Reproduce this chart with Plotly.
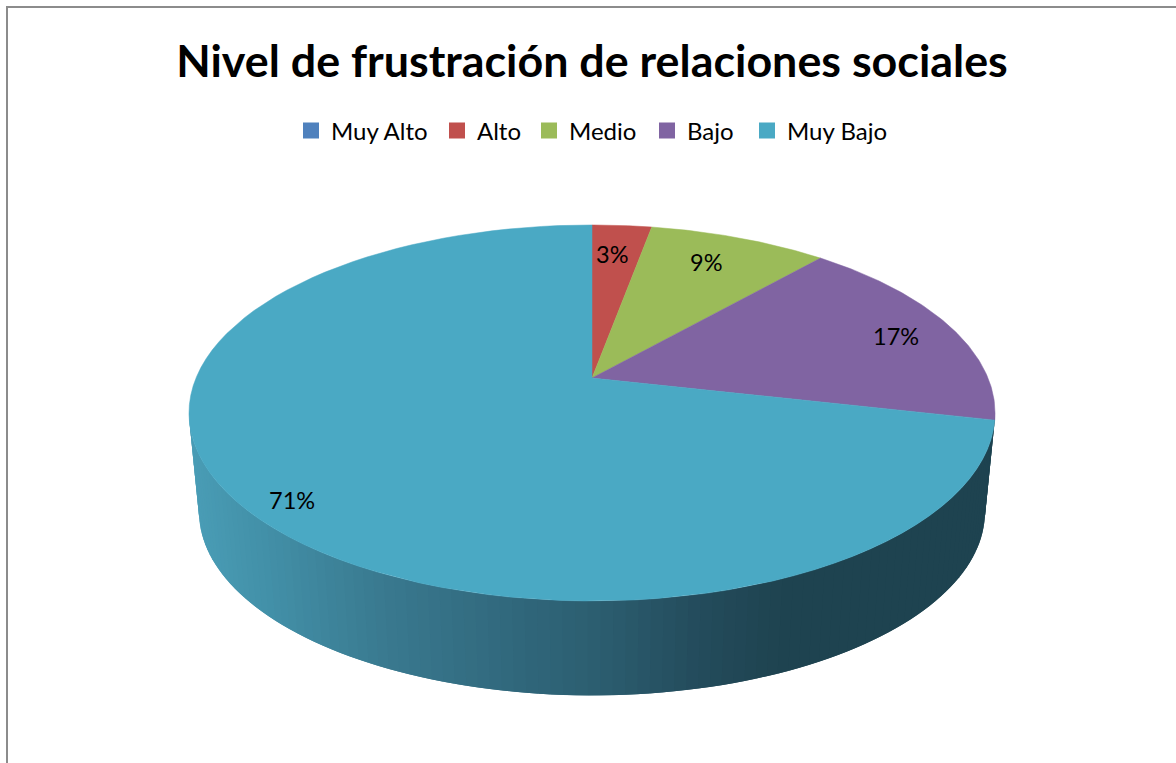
#!/usr/bin/python3

import numpy
import plotly.graph_objs as go

title = "Nivel de frustración de relaciones sociales"
categories = ["Muy Alto", "Alto", "Medio", "Bajo", "Muy Bajo"]
values = [0, 1, 3, 6, 25]
colors = ["#4F81BD", "#C0504D", "#9BBB59", "#8064A2", "#4AA9C4"]

# screen x -> shade of the side wall
wallX = [190, 260, 380, 530, 600, 700, 780, 1000]
wallR = [0x4A, 0x43, 0x3A, 0x30, 0x2C, 0x24, 0x1F, 0x1E]
wallG = [0x9D, 0x91, 0x7A, 0x66, 0x5E, 0x4C, 0x44, 0x43]
wallB = [0xB6, 0xA9, 0x90, 0x7A, 0x70, 0x5C, 0x51, 0x50]

# tilted disc seen in perspective, all in page pixels
centerX = 592
centerY = 378
radiusX = 396
radiusY = 181.5
persp = 0.186
bottomY = 478
bottomScale = 0.975


def disc(angle):
    u = numpy.sin(numpy.radians(angle))
    v = numpy.cos(numpy.radians(angle))
    d = 1 + persp * v
    return radiusX * u / d, -radiusY * v / d


fig = go.Figure()

# side wall, thin overlapping bands painted from the left so no seams show
step = 1.5
edges = numpy.arange(260, 100, -step)
for a1 in edges:
    arc = numpy.array([a1 - step * 2, a1 - step, a1])
    arc = arc[arc >= 100] if a1 - step * 2 >= 100 else numpy.array([100, a1])
    dx, dy = disc(arc)
    topX = centerX + dx
    topY = centerY + dy
    lowX = centerX + dx * bottomScale
    lowY = bottomY + dy * bottomScale
    mid = centerX + disc(a1 - step / 2)[0]
    shade = "rgb(%d,%d,%d)" % (numpy.interp(mid, wallX, wallR), numpy.interp(mid, wallX, wallG), numpy.interp(mid, wallX, wallB))
    fig.add_trace(go.Scatter(
        x=list(topX) + list(lowX[::-1]),
        y=list(topY) + list(lowY[::-1]),
        mode="lines",
        fill="toself",
        fillcolor=shade,
        line=dict(width=0),
        showlegend=False,
        hoverinfo="skip"
    ))

# top face
total = sum(values)
start = 0
for name, value, color in zip(categories, values, colors):
    sweep = value / total * 360
    if value > 0:
        arc = numpy.linspace(start, start + sweep, 90)
        dx, dy = disc(arc)
        fig.add_trace(go.Scatter(
            x=[centerX] + list(centerX + dx) + [centerX],
            y=[centerY] + list(centerY + dy) + [centerY],
            mode="lines",
            fill="toself",
            fillcolor=color,
            line=dict(color=color, width=0.5),
            showlegend=False,
            name=name,
            hoverinfo="name"
        ))
    start += sweep

# one legend per entry, the original spaces them unevenly
legendTextX = [331, 477, 569, 687, 787]
legends = {}
for i, (name, color) in enumerate(zip(categories, colors)):
    key = "legend" if i == 0 else f"legend{i + 1}"
    fig.add_trace(go.Scatter(
        x=[None],
        y=[None],
        mode="markers",
        name=name,
        legend=key,
        marker=dict(symbol="square", size=17, color=color)
    ))
    legends[key] = dict(
        x=(legendTextX[i] - 40) / 1176,
        xanchor="left",
        y=1 - 131 / 763,
        yanchor="middle",
        font=dict(family="Lato", size=24, color="#000000")
    )

labelX = [612, 706, 896, 292]
labelY = [254, 262, 336, 500]
for i, (x, y) in enumerate(zip(labelX, labelY)):
    share = values[i + 1] / total * 100
    fig.add_annotation(x=x, y=y, text=f"{share:.0f}%", showarrow=False,
                       font=dict(family="Lato", size=23.5, color="#000000"))

fig.add_shape(type="rect", x0=7, y0=7, x1=1200, y1=790, line=dict(color="#8C8C8C", width=2))

fig.update_layout(
    width=1176,
    height=763,
    margin=dict(l=0, r=0, t=0, b=0),
    paper_bgcolor="#FFFFFF",
    plot_bgcolor="#FFFFFF",
    title=dict(
        text=title,
        x=592 / 1176,
        xanchor="center",
        y=1 - 61 / 763,
        yanchor="middle",
        font=dict(family="Lato", size=44.8, color="#000000", weight="bold")
    ),
    xaxis=dict(range=[0, 1176], visible=False),
    yaxis=dict(range=[763, 0], visible=False),
    **legends
)

# page body has a default margin that would push the chart off by 8px
fig.write_html("out.html", config=dict(displayModeBar=False), post_script="document.body.style.margin='0';")
